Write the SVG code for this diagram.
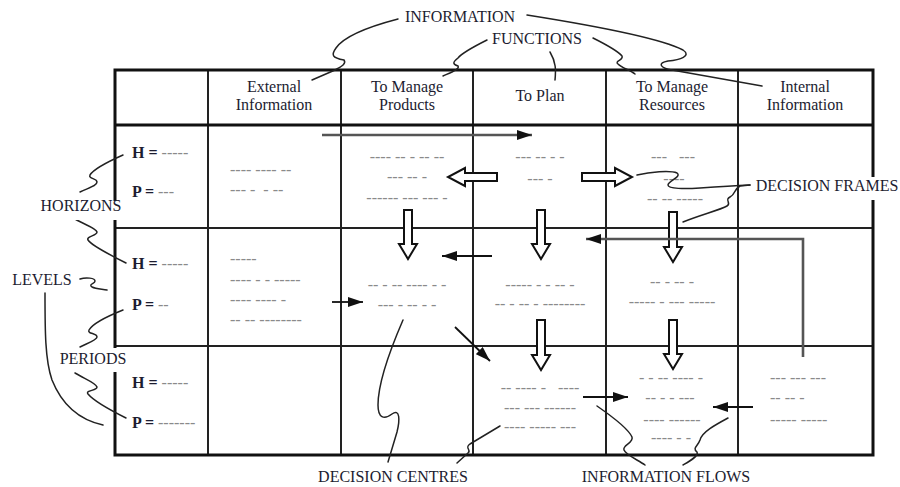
<svg xmlns="http://www.w3.org/2000/svg" width="900" height="487" viewBox="0 0 900 487">
  <defs>
    <style>
      .lbl { font-family: "Liberation Serif", "Times New Roman", serif; font-size: 16px; fill: #1c1c30; }
      .hdr { font-family: "Liberation Serif", "Times New Roman", serif; font-size: 16px; fill: #1c1c30; text-anchor: middle; }
      .hp { font-family: "Liberation Serif", "Times New Roman", serif; font-size: 16px; fill: #1c1c30; font-weight: bold; }
      .d { font-family: "Liberation Serif", "Times New Roman", serif; font-size: 16px; fill: #8a8a8a; font-weight: normal; }
      .dm { text-anchor: middle; }
      .thick { stroke: #111; stroke-width: 3; fill: none; }
      .thin { stroke: #222; stroke-width: 2; fill: none; }
      .block { fill: #fff; stroke: #111; stroke-width: 2; stroke-linejoin: miter; }
      .flow { stroke: #111; stroke-width: 1.8; fill: none; }
      .flowg { stroke: #555; stroke-width: 2.6; fill: none; }
      .lead { stroke: #222; stroke-width: 1.5; fill: none; stroke-linecap: round; }
      .halo { fill: #fff; }
    </style>
    <marker id="head" markerUnits="userSpaceOnUse" markerWidth="15" markerHeight="10" refX="15" refY="5" orient="auto">
      <path d="M0,0 L15,5 L0,10 Z" fill="#111"/>
    </marker>
  </defs>

  <rect width="900" height="487" fill="#fff"/>

  <!-- table grid -->
  <g id="table">
    <line class="thin" x1="208" y1="70" x2="208" y2="455"/>
    <line class="thin" x1="341" y1="70" x2="341" y2="455"/>
    <line class="thin" x1="473" y1="70" x2="473" y2="455"/>
    <line class="thin" x1="606" y1="70" x2="606" y2="455"/>
    <line class="thin" x1="738" y1="70" x2="738" y2="455"/>
    <line class="thin" x1="115" y1="228" x2="873" y2="228"/>
    <line class="thin" x1="115" y1="346" x2="873" y2="346"/>
    <line class="thick" x1="115" y1="125" x2="873" y2="125"/>
    <rect class="thick" x="115" y="70" width="758" height="385"/>
  </g>

  <!-- column headings -->
  <g id="head-external">
    <text class="hdr" x="274" y="92">External</text>
    <text class="hdr" x="274" y="110">Information</text>
  </g>
  <g id="head-products">
    <text class="hdr" x="407" y="92">To Manage</text>
    <text class="hdr" x="407" y="110">Products</text>
  </g>
  <g id="head-plan">
    <text class="hdr" x="540" y="101">To Plan</text>
  </g>
  <g id="head-resources">
    <text class="hdr" x="672" y="92">To Manage</text>
    <text class="hdr" x="672" y="110">Resources</text>
  </g>
  <g id="head-internal">
    <text class="hdr" x="805" y="92">Internal</text>
    <text class="hdr" x="805" y="110">Information</text>
  </g>

  <!-- level rows: horizon / period -->
  <g id="level-1">
    <text class="hp" x="132" y="158">H = <tspan class="d">-----</tspan></text>
    <text class="hp" x="132" y="197">P = <tspan class="d">---</tspan></text>
  </g>
  <g id="level-2">
    <text class="hp" x="132" y="269">H = <tspan class="d">-----</tspan></text>
    <text class="hp" x="132" y="310">P = <tspan class="d">--</tspan></text>
  </g>
  <g id="level-3">
    <text class="hp" x="132" y="388">H = <tspan class="d">-----</tspan></text>
    <text class="hp" x="132" y="428">P = <tspan class="d">-------</tspan></text>
  </g>

  <!-- cell contents -->
  <g id="cell-1-ext">
    <text class="d" x="230" y="175">---- ---- --</text>
    <text class="d" x="230" y="195" xml:space="preserve">--- -  - --</text>
  </g>
  <g id="cell-1-products">
    <text class="d dm" x="407" y="162">---- -- - -- --</text>
    <text class="d dm" x="407" y="182">--- -- -</text>
    <text class="d dm" x="407" y="203">------ --- --- -</text>
  </g>
  <g id="cell-1-plan">
    <text class="d dm" x="540" y="162">--- -- - -</text>
    <text class="d dm" x="540" y="184">--- -</text>
  </g>
  <g id="cell-1-resources">
    <text class="d dm" x="673" y="162" xml:space="preserve">---   ---</text>
    <text class="d dm" x="674" y="184">----</text>
    <text class="d dm" x="675" y="204">-- -- -----</text>
  </g>
  <g id="cell-2-ext">
    <text class="d" x="230" y="264">-----</text>
    <text class="d" x="230" y="285">---- - - -----</text>
    <text class="d" x="230" y="305">---- ---- -</text>
    <text class="d" x="230" y="325">-- -- --------</text>
  </g>
  <g id="cell-2-products">
    <text class="d dm" x="407" y="290">-- - -- ---- - -</text>
    <text class="d dm" x="407" y="310">--- - -- - -</text>
  </g>
  <g id="cell-2-plan">
    <text class="d dm" x="540" y="290">----- - - -- -</text>
    <text class="d dm" x="540" y="309">-- - -- - --------</text>
  </g>
  <g id="cell-2-resources">
    <text class="d dm" x="672" y="287">-- - -- -</text>
    <text class="d dm" x="672" y="307">----- - --- -----</text>
  </g>
  <g id="cell-3-plan">
    <text class="d dm" x="540" y="393" xml:space="preserve">-- ---- -   ----</text>
    <text class="d dm" x="540" y="413">--- --- ------</text>
    <text class="d dm" x="540" y="432">---- ----- ---</text>
  </g>
  <g id="cell-3-resources">
    <text class="d dm" x="671" y="383">- - -- ---- -</text>
    <text class="d dm" x="670" y="403">-- - - ---</text>
    <text class="d dm" x="672" y="425">---- ------</text>
    <text class="d dm" x="671" y="443">---- - -</text>
  </g>
  <g id="cell-3-int">
    <text class="d" x="770" y="383">--- --- ---</text>
    <text class="d" x="770" y="403">-- -- -</text>
    <text class="d" x="770" y="425">----- -----</text>
  </g>

  <!-- connectors: decision frames and information flows -->
  <g id="connectors">
    <!-- decision frames (hollow arrows) -->
    <path class="block" d="M497,173 V181 H465 V186 L448,177 L465,168 V173 Z"/>
    <path class="block" d="M582,173 V181 H615 V186 L632,177 L615,168 V173 Z"/>
    <path class="block" d="M404,210 H412 V244 H417 L408,259 L399,244 H404 Z"/>
    <path class="block" d="M537,210 H545 V244 H550 L541,259 L532,244 H537 Z"/>
    <path class="block" d="M669,212 H677 V247 H682 L673,262 L664,247 H669 Z"/>
    <path class="block" d="M537,320 H545 V355 H550 L541,370 L532,355 H537 Z"/>
    <path class="block" d="M669,320 H677 V354 H682 L673,369 L664,354 H669 Z"/>

    <!-- information flows -->
    <line class="flowg" x1="322" y1="135" x2="532" y2="135" marker-end="url(#head)"/>
    <path class="flowg" d="M803,357 V239 H586" marker-end="url(#head)"/>
    <line class="flow" x1="492" y1="256" x2="442" y2="256" marker-end="url(#head)"/>
    <line class="flow" x1="332" y1="302" x2="363" y2="302" marker-end="url(#head)"/>
    <line class="flow" x1="455" y1="327" x2="490" y2="361" marker-end="url(#head)"/>
    <line class="flow" x1="583" y1="397" x2="628" y2="397" marker-end="url(#head)"/>
    <line class="flow" x1="753" y1="407" x2="713" y2="407" marker-end="url(#head)"/>
  </g>

  <!-- callout leaders -->
  <g id="leaders">
    <path class="lead" d="M398,19 C375,25 345,35 336,48 C331,55 332,58 344,60 C347,64 340,67 335,70 L312,80"/>
    <path class="lead" d="M527,15 C590,25 660,38 683,50 C692,56 680,60 668,61 C657,63 660,68 672,70 L762,86"/>
    <path class="lead" d="M487,40 C475,46 462,53 458,58 C453,62 452,64 458,66 C460,69 452,72 443,76"/>
    <path class="lead" d="M550,52 C556,62 556,70 555,80"/>
    <path class="lead" d="M593,38 C605,44 617,50 622,56 C624,60 614,61 618,64 C622,68 630,70 635,74"/>
    <path class="lead" d="M80,192 C88,188 97,186 97,182 C97,178 88,179 90,175 C93,170 105,163 123,155"/>
    <path class="lead" d="M75,219 C85,225 96,228 97,232 C97,236 86,236 88,240 C92,246 110,255 126,263"/>
    <path class="lead" d="M80,279 C86,277 95,278 95,281 C95,284 88,284 92,287 C96,289 102,289 107,290"/>
    <path class="lead" d="M45,293 C45,330 45,360 52,380 C62,405 80,420 103,425"/>
    <path class="lead" d="M80,347 C88,343 97,340 97,337 C97,333 87,334 89,330 C93,323 108,316 123,310"/>
    <path class="lead" d="M75,373 C85,379 96,383 97,387 C97,391 85,390 88,394 C93,400 110,410 126,418"/>
    <path class="lead" d="M637,175 C650,172 670,170 677,173 C682,177 668,181 668,185 C668,189 685,189 700,188 C715,187 730,186 750,185"/>
    <path class="lead" d="M683,222 C700,215 720,210 727,206 C732,203 724,200 730,197 C736,194 733,190 740,186 L750,185"/>
    <path class="lead" d="M403,320 C390,350 378,385 378,405 C378,418 384,420 392,414 C400,408 400,420 397,432 L388,462"/>
    <path class="lead" d="M500,426 L470,444 C464,448 472,450 468,453 L457,463"/>
    <path class="lead" d="M597,406 C610,415 628,428 632,437 C634,443 622,445 624,450 C626,455 638,460 645,465"/>
    <path class="lead" d="M728,418 C715,425 702,432 700,440 C698,446 692,448 697,452 C699,456 690,461 683,465"/>
  </g>

  <!-- callout labels -->
  <g id="label-information"><text class="lbl" x="460" y="22" text-anchor="middle">INFORMATION</text></g>
  <g id="label-functions"><text class="lbl" x="537" y="44" text-anchor="middle">FUNCTIONS</text></g>
  <g id="label-horizons">
    <rect class="halo" x="38" y="201" width="86" height="19"/>
    <text class="lbl" x="81" y="211" text-anchor="middle">HORIZONS</text>
  </g>
  <g id="label-levels"><text class="lbl" x="42" y="285" text-anchor="middle">LEVELS</text></g>
  <g id="label-periods">
    <rect class="halo" x="57" y="348" width="72" height="24"/>
    <text class="lbl" x="93" y="364" text-anchor="middle">PERIODS</text>
  </g>
  <g id="label-decision-frames">
    <rect class="halo" x="752" y="177" width="148" height="23"/>
    <text class="lbl" x="827" y="191" text-anchor="middle">DECISION FRAMES</text>
  </g>
  <g id="label-decision-centres"><text class="lbl" x="393" y="482" text-anchor="middle">DECISION CENTRES</text></g>
  <g id="label-information-flows"><text class="lbl" x="666" y="482" text-anchor="middle">INFORMATION FLOWS</text></g>
</svg>
